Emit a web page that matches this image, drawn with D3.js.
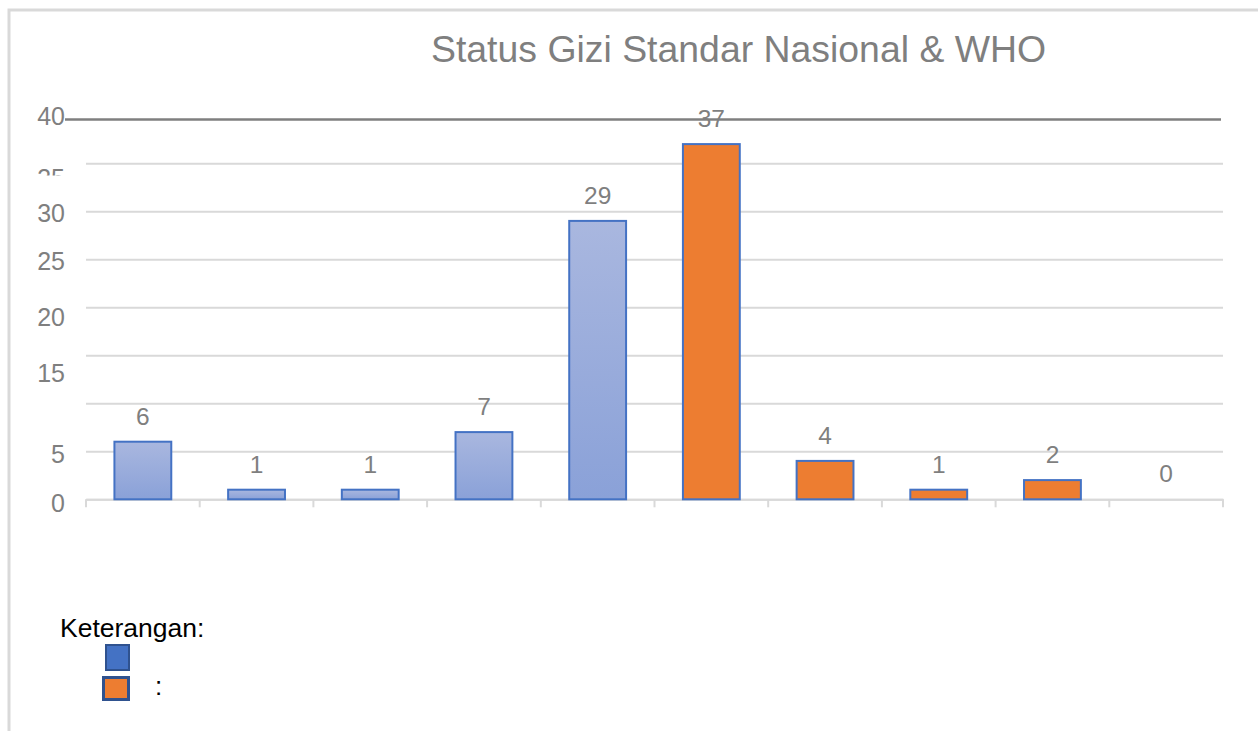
<html>

<head>
  <script src="https://d3js.org/d3.v7.min.js"></script>

  <style>
    body {
      margin: 0;
      background: #fff;
    }

    text {
      font-family: "Liberation Sans", Arial, sans-serif;
    }

    .gridlines line {
      stroke: #d9d9d9;
      stroke-width: 2px;
    }

    .gridlines .domain {
      stroke: none;
    }
  </style>
</head>

<body>
  <svg id="barchart" width="1258" height="731"></svg>

  <script>
    // data
    const categories = ["1", "2", "3", "4", "5", "6", "7", "8", "9", "10"];
    const nasionalValues = [6, 1, 1, 7, 29];
    const whoValues = [37, 4, 1, 2, 0];
    const yTicks = [0, 5, 10, 15, 20, 25, 30, 35, 40];
    const yTickLabels = ["0", "5", "", "15", "20", "25", "30", "35", "40"];
    const chartTitle = "Status Gizi Standar Nasional & WHO";
    const legendTitle = "Keterangan:";
    const seriesNames = ["Standar Nasional", "WHO"];

    const data = categories.map((c, i) => ({
      cat: c,
      series: i < nasionalValues.length ? seriesNames[0] : seriesNames[1],
      value: i < nasionalValues.length ? nasionalValues[i] : whoValues[i - nasionalValues.length]
    }));

    const svg = d3.select("svg#barchart");
    const plot = { left: 86, right: 1223, top: 115.3, bottom: 499.3 };

    // label nudges, the source labels sit a little off their gridlines
    const labelShift = { 0: 3, 5: 2, 15: 17, 20: 9, 25: 1, 30: 1, 35: 14, 40: 0 };

    const xScale = d3.scaleBand()
      .domain(categories)
      .range([plot.left, plot.right])
      .paddingInner(0.5)
      .paddingOuter(0.25);

    const yScale = d3.scaleLinear()
      .domain([0, 40])
      .range([plot.bottom, plot.top]);

    const color = d3.scaleOrdinal()
      .domain(seriesNames)
      .range(["url(#blueGrad)", "#ed7d31"]);

    const defs = svg.append("defs");
    const grad = defs.append("linearGradient")
      .attr("id", "blueGrad")
      .attr("x1", 0).attr("y1", 0).attr("x2", 0).attr("y2", 1);
    grad.append("stop").attr("offset", "0%").attr("stop-color", "#a9b7df");
    grad.append("stop").attr("offset", "100%").attr("stop-color", "#8aa1d8");

    defs.append("clipPath").attr("id", "clip35")
      .append("rect");

    // outer frame
    svg.append("rect")
      .attr("x", 9).attr("y", 10)
      .attr("width", 1300).attr("height", 800)
      .attr("fill", "none")
      .attr("stroke", "#d9d9d9")
      .attr("stroke-width", 3);

    svg.append("text")
      .attr("x", 431)
      .attr("y", 62)
      .style("font-size", "37.4px")
      .attr("fill", "#7f7f7f")
      .text(chartTitle);

    // gridlines (skip the 40 line, drawn separately in dark grey)
    let gridAxis = d3.axisLeft(yScale)
      .tickValues(yTicks.filter(t => t < 40))
      .tickSize(-(plot.right - plot.left))
      .tickFormat("");
    svg.append("g")
      .attr("class", "y gridlines")
      .attr("transform", `translate(${plot.left},0)`)
      .call(gridAxis);

    svg.append("line")
      .attr("x1", 65).attr("x2", 1221)
      .attr("y1", yScale(40) + 4.3).attr("y2", yScale(40) + 4.3)
      .attr("stroke", "#7f7f7f")
      .attr("stroke-width", 2.5);

    // y labels
    let leftAxis = d3.axisLeft(yScale)
      .tickValues(yTicks)
      .tickSize(0)
      .tickPadding(0)
      .tickFormat((d, i) => yTickLabels[i]);
    let yAxisG = svg.append("g")
      .attr("class", "y axis")
      .attr("transform", "translate(65,0)")
      .call(leftAxis);
    yAxisG.select(".domain").remove();
    yAxisG.selectAll("text")
      .attr("fill", "#7f7f7f")
      .style("font-size", "25px")
      .style("font-family", "'Liberation Sans', Arial, sans-serif")
      .attr("dy", d => (labelShift[d] || 0) + 9);
    yAxisG.selectAll(".tick")
      .filter(d => d === 35)
      .select("text")
      .attr("clip-path", "url(#clip35)");
    // clip box is in the tick's local coordinates
    defs.select("#clip35 rect")
      .attr("x", -100)
      .attr("y", -50)
      .attr("width", 100)
      .attr("height", 175 - yScale(35) + 50);

    // bottom ticks
    let bottomAxis = d3.axisBottom(xScale)
      .tickSize(0)
      .tickFormat("");
    let xAxisG = svg.append("g")
      .attr("transform", `translate(0,${plot.bottom})`)
      .call(bottomAxis);
    xAxisG.select(".domain")
      .attr("stroke", "#d9d9d9")
      .attr("stroke-width", 2);
    const edges = categories.map(c => xScale(c) - xScale.step() * xScale.paddingInner() / 2)
      .concat([plot.right]);
    xAxisG.selectAll(".edge")
      .data(edges)
      .enter().append("line")
      .attr("x1", d => d).attr("x2", d => d)
      .attr("y1", 0).attr("y2", 8)
      .attr("stroke", "#d9d9d9")
      .attr("stroke-width", 2);

    // bars
    svg.append("g").selectAll("rect")
      .data(data)
      .enter().append("rect")
      .attr("x", d => xScale(d.cat))
      .attr("y", d => yScale(d.value))
      .attr("width", xScale.bandwidth())
      .attr("height", d => yScale(0) - yScale(d.value))
      .attr("fill", d => color(d.series))
      .attr("stroke", "#4472c4")
      .attr("stroke-width", 2)
      .style("display", d => d.value > 0 ? null : "none");

    svg.append("g").selectAll("text")
      .data(data)
      .enter().append("text")
      .attr("x", d => xScale(d.cat) + xScale.bandwidth() / 2)
      .attr("y", d => yScale(d.value) - 17)
      .attr("text-anchor", "middle")
      .attr("fill", "#7f7f7f")
      .style("font-size", "24.5px")
      .text(d => d.value);

    // legend
    svg.append("text")
      .attr("x", 60)
      .attr("y", 637)
      .style("font-size", "26.5px")
      .attr("fill", "#000")
      .text(legendTitle);

    const legendData = [
      { name: seriesNames[0], fill: "#4472c4", x: 106, y: 645, w: 23, h: 25, sw: 2 },
      { name: seriesNames[1], fill: "#ed7d31", x: 103.5, y: 677.5, w: 25, h: 22, sw: 3 }
    ];
    svg.append("g").selectAll("rect")
      .data(legendData)
      .enter().append("rect")
      .attr("x", d => d.x).attr("y", d => d.y)
      .attr("width", d => d.w).attr("height", d => d.h)
      .attr("fill", d => d.fill)
      .attr("stroke", "#2f528f")
      .attr("stroke-width", d => d.sw);

    svg.append("text")
      .attr("x", 155)
      .attr("y", 695)
      .style("font-size", "26px")
      .attr("fill", "#000")
      .text(":");
  </script>

</body>

</html>
